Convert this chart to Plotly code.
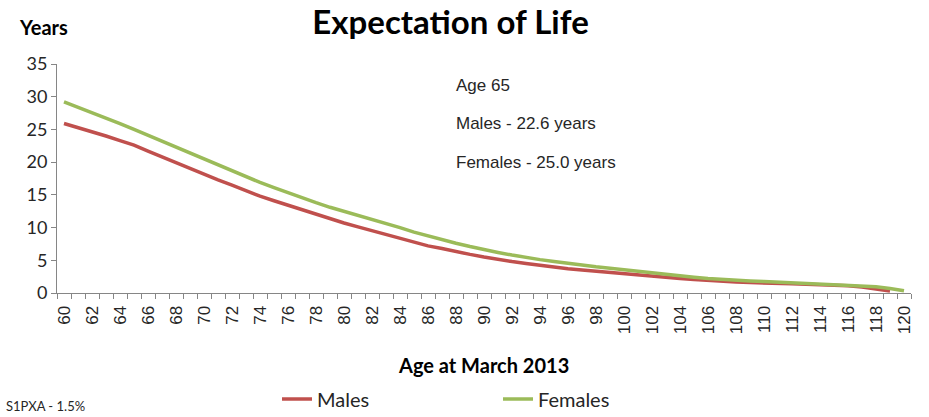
import plotly.graph_objects as go

# Remaining life expectancy (years) by age at March 2013, S1PXA table with 1.5% improvements
ages_male = list(range(60, 120))
males = [25.9, 25.3, 24.7, 24.0, 23.3, 22.6, 21.7, 20.8, 19.9, 19.0,
         18.1, 17.3, 16.5, 15.6, 14.8, 14.1, 13.4, 12.7, 12.0, 11.4,
         10.7, 10.1, 9.5, 8.9, 8.3, 7.8, 7.2, 6.8, 6.3, 5.9,
         5.5, 5.1, 4.8, 4.5, 4.2, 3.9, 3.7, 3.5, 3.3, 3.1,
         2.9, 2.7, 2.5, 2.3, 2.2, 2.05, 1.9, 1.8, 1.7, 1.6,
         1.5, 1.45, 1.4, 1.35, 1.3, 1.2, 1.1, 0.9, 0.6, 0.3]

ages_female = list(range(60, 121))
females = [29.2, 28.4, 27.6, 26.8, 25.9, 25.0, 24.1, 23.2, 22.3, 21.3,
           20.4, 19.6, 18.7, 17.8, 16.9, 16.1, 15.3, 14.5, 13.8, 13.1,
           12.5, 11.9, 11.2, 10.6, 10.0, 9.3, 8.7, 8.1, 7.6, 7.1,
           6.6, 6.2, 5.8, 5.4, 5.1, 4.8, 4.5, 4.25, 4.0, 3.8,
           3.55, 3.3, 3.1, 2.85, 2.6, 2.4, 2.2, 2.05, 1.95, 1.85,
           1.75, 1.65, 1.55, 1.5, 1.4, 1.3, 1.2, 1.1, 0.95, 0.7, 0.35]

x_tick_vals = list(range(60, 121, 2))
y_tick_vals = [0, 5, 10, 15, 20, 25, 30, 35]

note_lines = ["Age 65", "Males - 22.6 years", "Females - 25.0 years"]

RED = "#C0504D"
GREEN = "#9BBB59"
AXIS = "#868686"
CAL = "Lato, Carlito, Calibri, sans-serif"
ARIAL = "Liberation Sans, Arial, sans-serif"

W, H = 929, 417
ML, MR, MT, MB = 57, 18, 64, 124
PW = W - ML - MR
PH = H - MT - MB


def px_x(x):
    return (x - ML) / PW


def px_y(y):
    return (H - MB - y) / PH


fig = go.Figure()
fig.add_trace(go.Scatter(x=ages_male, y=males, mode="lines", name="Males",
                         line=dict(color=RED, width=3.5)))
fig.add_trace(go.Scatter(x=ages_female, y=females, mode="lines", name="Females",
                         line=dict(color=GREEN, width=3.5)))

fig.update_layout(
    width=W, height=H, autosize=False,
    margin=dict(l=ML, r=MR, t=MT, b=MB, autoexpand=False),
    plot_bgcolor="white", paper_bgcolor="white",
    title=dict(text="<b>Expectation of Life</b>", x=0.485, xanchor="center",
               y=1 - 22 / H, yanchor="middle",
               font=dict(family=CAL, size=33, color="black")),
    showlegend=True,
    legend=dict(orientation="h", x=px_x(277), xanchor="left",
                y=1 - 399 / H, yanchor="middle", yref="container",
                entrywidth=176, entrywidthmode="pixels",
                font=dict(family=CAL, size=20, color="#262626"),
                bgcolor="rgba(0,0,0,0)"),
    xaxis=dict(range=[59.5, 120.5], tickmode="array", tickvals=x_tick_vals,
               ticktext=[str(v) for v in x_tick_vals], tickangle=-90,
               ticks="outside", ticklen=5, tickcolor="rgba(0,0,0,0)",
               showline=True, linecolor=AXIS, linewidth=1, showgrid=False,
               zeroline=False, automargin=False,
               tickfont=dict(family=ARIAL, size=17, color="#262626"),
               minor=dict(tickmode="linear", tick0=59.5, dtick=1, ticks="outside",
                          ticklen=5, tickcolor=AXIS, showgrid=False)),
    yaxis=dict(range=[0, 35], tickmode="array", tickvals=y_tick_vals,
               ticks="outside", ticklen=5, tickcolor=AXIS,
               showline=True, linecolor=AXIS, linewidth=1, showgrid=False,
               zeroline=False, automargin=False,
               tickfont=dict(family=CAL, size=18, color="#262626")),
)

annotations = [
    dict(text="<b>Years</b>", xref="paper", yref="paper", x=px_x(17),
         y=px_y(27), xanchor="left", yanchor="middle", showarrow=False,
         font=dict(family=CAL, size=20, color="black")),
    dict(text="<b>Age at March 2013</b>", xref="paper", yref="paper", x=px_x(483),
         y=px_y(365), xanchor="center", yanchor="middle", showarrow=False,
         font=dict(family=CAL, size=20, color="black")),
    dict(text="S1PXA - 1.5%", xref="paper", yref="paper", x=px_x(4),
         y=px_y(406), xanchor="left", yanchor="middle", showarrow=False,
         font=dict(family=CAL, size=13, color="#262626")),
]
for line, ypx in zip(note_lines, [85, 123, 162]):
    annotations.append(dict(text=line, xref="paper", yref="paper",
                            x=px_x(454), y=px_y(ypx),
                            xanchor="left", yanchor="middle", showarrow=False,
                            font=dict(family=ARIAL, size=17, color="#262626")))
fig.update_layout(annotations=annotations)

fig.write_html("out.html")
